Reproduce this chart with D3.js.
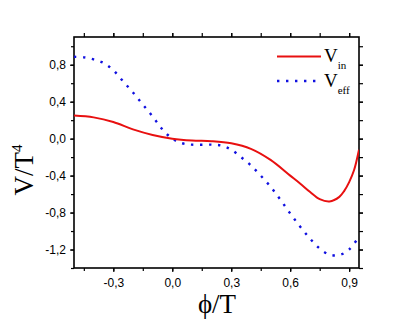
<!DOCTYPE html>
<html>
<head>
<meta charset="utf-8">
<script src="https://cdn.jsdelivr.net/npm/d3@7"></script>
<style>
  body { margin: 0; background: #fff; }
  .axis text { font-family: "Liberation Sans", Arial, sans-serif; font-size: 12px; fill: #000; }
  .axis path, .axis line { stroke: #000; }
  .title { font-family: "Liberation Serif", "Times New Roman", serif; fill: #000; }
</style>
</head>
<body>
<div id="chart"></div>
<script>
//////////////////////////// data /////////////////////////////////////////

const phiIn = [-0.5, -0.4, -0.3, -0.2, -0.1, 0.0, 0.1, 0.2, 0.3, 0.4, 0.5, 0.6, 0.65, 0.7, 0.75, 0.8, 0.85, 0.875, 0.9, 0.925, 0.95];
const vIn = [0.25, 0.23, 0.18, 0.10, 0.04, 0.0, -0.02, -0.027, -0.05, -0.11, -0.23, -0.40, -0.485, -0.575, -0.655, -0.68, -0.63, -0.565, -0.47, -0.34, -0.12];

const phiEff = [-0.5, -0.45, -0.4, -0.35, -0.3, -0.25, -0.2, -0.15, -0.1, -0.05, 0.0, 0.05, 0.1, 0.2, 0.25, 0.3, 0.35, 0.4, 0.45, 0.5, 0.55, 0.6, 0.65, 0.7, 0.75, 0.8, 0.85, 0.9, 0.95];
const vEff = [0.886, 0.88, 0.857, 0.82, 0.74, 0.62, 0.5, 0.37, 0.24, 0.1, 0.0, -0.05, -0.065, -0.065, -0.075, -0.12, -0.2, -0.29, -0.4, -0.52, -0.66, -0.81, -0.95, -1.08, -1.19, -1.255, -1.26, -1.2, -1.06];

const xTicks = [-0.3, 0.0, 0.3, 0.6, 0.9];
const yTicks = [-1.2, -0.8, -0.4, 0.0, 0.4, 0.8];

//////////////////////////// sizes ///////////////////////////////////////

const width = 415, height = 321;
const margin = { top: 37, right: 56, bottom: 53, left: 74 };
const boundedWidth = width - margin.left - margin.right;
const boundedHeight = height - margin.top - margin.bottom;

const svg = d3.select("#chart").append("svg")
	.attr("width", width)
	.attr("height", height);

const bounds = svg.append("g")
	.attr("transform", `translate(${margin.left},${margin.top})`);

//////////////////////////// scales ///////////////////////////////////////

const xScale = d3.scaleLinear().domain([-0.5, 0.95]).range([0, boundedWidth]);
const yScale = d3.scaleLinear().domain([-1.4, 1.1]).range([boundedHeight, 0]);

const locale = d3.formatLocale({ decimal: ",", thousands: ".", grouping: [3], currency: ["", ""], minus: "-" });
const fmt = locale.format(".1f");

// minor ticks halfway between the major ones
const xMinor = d3.range(-0.45, 0.95, 0.15).map((d) => +d.toFixed(2));
const yMinor = d3.range(-1.4, 1.1, 0.2).map((d) => +d.toFixed(2));

//////////////////////////// axes /////////////////////////////////////////

const addAxis = (gen, transform, labels) => {
	const g = bounds.append("g").attr("class", "axis").attr("transform", transform).call(gen);
	g.select(".domain").remove();
	if (!labels) g.selectAll("text").remove();
	g.selectAll("line").attr("stroke-width", 1.2);
	return g;
};

addAxis(d3.axisBottom(xScale).tickValues(xMinor).tickSize(3).tickFormat(""), `translate(0,${boundedHeight})`, false);
addAxis(d3.axisBottom(xScale).tickValues(xTicks).tickSize(4).tickPadding(6).tickFormat(fmt), `translate(0,${boundedHeight})`, true);
addAxis(d3.axisTop(xScale).tickValues(xMinor.concat(xTicks)).tickSize(4), "translate(0,0)", false);

addAxis(d3.axisLeft(yScale).tickValues(yMinor).tickSize(3).tickFormat(""), "translate(0,0)", false);
addAxis(d3.axisLeft(yScale).tickValues(yTicks).tickSize(4).tickPadding(4).tickFormat(fmt), "translate(0,0)", true);
addAxis(d3.axisRight(yScale).tickValues(yMinor.concat(yTicks)).tickSize(4), `translate(${boundedWidth},0)`, false);

// frame
bounds.append("rect")
	.attr("width", boundedWidth)
	.attr("height", boundedHeight)
	.attr("fill", "none")
	.attr("stroke", "#000")
	.attr("stroke-width", 1.6);

//////////////////////////// plot /////////////////////////////////////////

bounds.append("clipPath").attr("id", "clip")
	.append("rect").attr("width", boundedWidth).attr("height", boundedHeight);

const line = d3.line()
	.x((d) => xScale(d[0]))
	.y((d) => yScale(d[1]))
	.curve(d3.curveCatmullRom);

bounds.append("path")
	.datum(d3.zip(phiEff, vEff))
	.attr("clip-path", "url(#clip)")
	.attr("d", line)
	.attr("fill", "none")
	.attr("stroke", "#1010e0")
	.attr("stroke-width", 2.4)
	.attr("stroke-dasharray", "2.4,6.6");

bounds.append("path")
	.datum(d3.zip(phiIn, vIn))
	.attr("clip-path", "url(#clip)")
	.attr("d", line)
	.attr("fill", "none")
	.attr("stroke", "#e81010")
	.attr("stroke-width", 2);

//////////////////////////// legend ///////////////////////////////////////

const legend = svg.append("g");
legend.append("line")
	.attr("x1", 277).attr("x2", 321).attr("y1", 56.5).attr("y2", 56.5)
	.attr("stroke", "#e81010").attr("stroke-width", 2);
legend.append("line")
	.attr("x1", 277).attr("x2", 321).attr("y1", 81).attr("y2", 81)
	.attr("stroke", "#1010e0").attr("stroke-width", 2.4)
	.attr("stroke-dasharray", "2.4,6.6");

const lt1 = legend.append("text").attr("class", "title").attr("x", 324).attr("y", 62).style("font-size", "19px");
lt1.append("tspan").text("V");
lt1.append("tspan").attr("dy", 7).style("font-size", "11px").text("in");

const lt2 = legend.append("text").attr("class", "title").attr("x", 324).attr("y", 87).style("font-size", "19px");
lt2.append("tspan").text("V");
lt2.append("tspan").attr("dy", 7).style("font-size", "11px").text("eff");

//////////////////////////// axis titles //////////////////////////////////

svg.append("text")
	.attr("class", "title")
	.attr("x", 217).attr("y", 313)
	.attr("text-anchor", "middle")
	.style("font-size", "27px")
	.text("\u03D5/T");

const yt = svg.append("text")
	.attr("class", "title")
	.attr("transform", "translate(33,170) rotate(-90)")
	.attr("text-anchor", "middle")
	.style("font-size", "27px");
yt.append("tspan").text("V/T");
yt.append("tspan").attr("dy", -11).style("font-size", "15px").text("4");
</script>
</body>
</html>
